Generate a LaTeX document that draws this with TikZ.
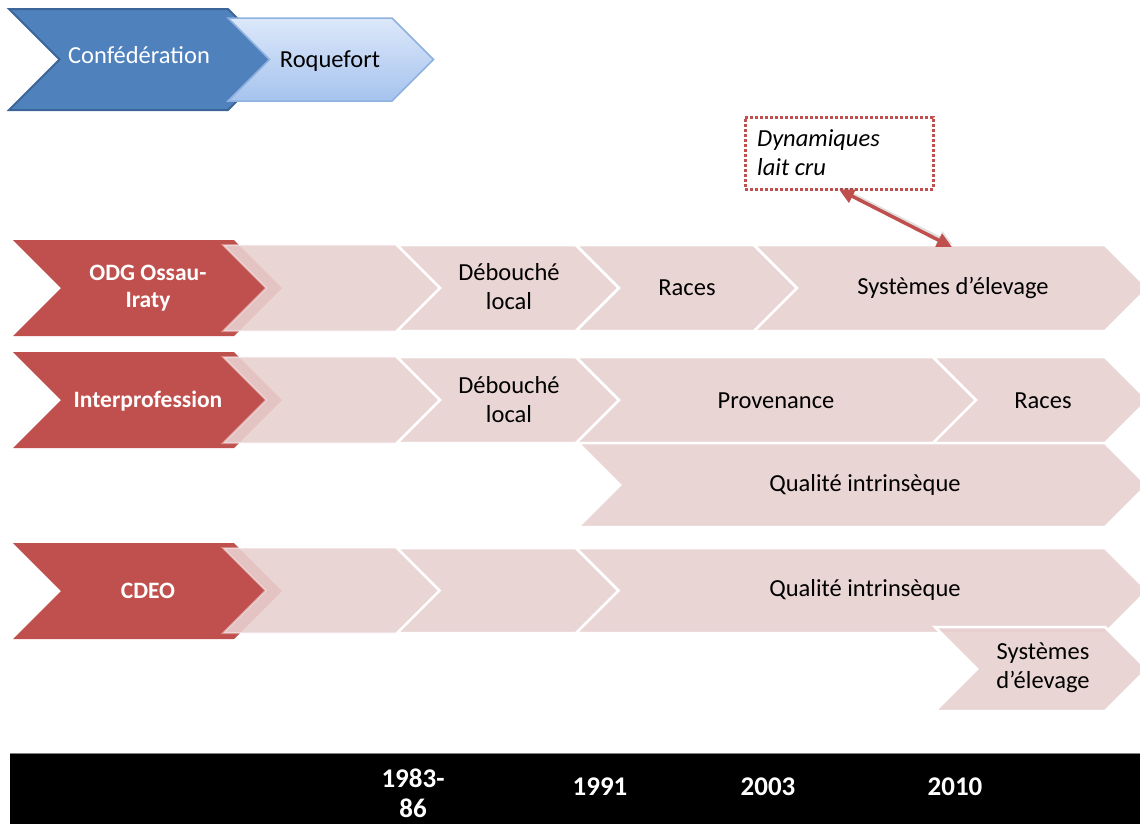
\documentclass[tikz,border=0pt]{standalone}
\usepackage{fontspec}
\setmainfont{Carlito}
\usetikzlibrary{arrows.meta}
\definecolor{redc}{HTML}{C0504D}
\definecolor{pinkc}{RGB}{232,208,208}
\definecolor{bluec}{HTML}{4F81BD}
\definecolor{blueb}{HTML}{3C6699}
\definecolor{ltop}{HTML}{DCE8FA}
\definecolor{lbot}{HTML}{A6C3EE}
\definecolor{lbord}{HTML}{8FB1DF}
\tikzset{bigtip/.tip={Triangle[length=15pt,width=14pt]}}
% #1 style, #2 left x, #3 right x (top corners), #4 top y, #5 bottom y
\newcommand{\mychev}[5]{%
  \pgfmathsetmacro{\chh}{(#5-#4)/2}%
  \pgfmathsetmacro{\chm}{(#4+#5)/2}%
  \path[#1] (#2,#4) -- (#3,#4) -- ({#3+\chh},\chm) -- (#3,#5) -- (#2,#5) -- ({#2+\chh},\chm) -- cycle;}
\begin{document}
\begin{tikzpicture}[x=1pt,y=-1pt,
  redchev/.style={fill=redc},
  pinkchev/.style={fill=pinkc,fill opacity=0.9,draw=white,line width=2.5pt,line join=miter},
  firstpink/.style={fill=pinkc,fill opacity=0.9,draw=white,draw opacity=0.35,line width=2pt},
  lbl/.style={font=\fontsize{24.5}{29}\selectfont,align=center,text=black,inner sep=0},
  rlbl/.style={font=\bfseries\fontsize{23.5}{27}\selectfont,align=center,text=white,inner sep=0},
  yr/.style={font=\bfseries\fontsize{27}{30}\selectfont,align=center,text=white,inner sep=0}]
\useasboundingbox (0,0) rectangle (1140,823);
\clip (0,0) rectangle (1140,823);

% top blue chevrons
\mychev{fill=bluec,draw=blueb,line width=2pt}{9}{228}{9}{110}
\mychev{top color=ltop,bottom color=lbot,draw=lbord,line width=1.5pt}{228}{392}{18}{101}
\node[lbl,text=white] (conf) at (139,55) {Confédération};
\node[lbl] (roq) at (330,61) {Roquefort};

% red chevrons
\mychev{redchev}{13}{234}{240}{336}
\mychev{redchev}{13}{234}{352}{448}
\mychev{redchev}{13}{234}{543}{639}

% row 1
\mychev{firstpink}{223}{397}{245}{331}
\mychev{pinkchev}{397}{576}{245}{331}
\mychev{pinkchev}{576}{754}{245}{331}
\mychev{pinkchev}{754}{1105}{245}{331}
% row 2
\mychev{firstpink}{223}{397}{357}{443}
\mychev{pinkchev}{397}{576}{357}{443}
\mychev{pinkchev}{576}{933}{357}{443}
\mychev{pinkchev}{933}{1105}{357}{443}
\mychev{pinkchev}{578}{1105}{443}{527}
% row 3
\mychev{firstpink}{223}{397}{548}{633}
\mychev{pinkchev}{397}{576}{548}{633}
\mychev{pinkchev}{576}{1105}{548}{633}
\mychev{pinkchev}{935}{1105}{627}{711}

% red labels
\node[rlbl] (odg) at (148,288) {ODG Ossau-\\Iraty};
\node[rlbl] (inter) at (148,401) {Interprofession};
\node[rlbl] (cdeo) at (148,591) {CDEO};

% pink labels
\node[lbl] (deb1) at (509,287) {Débouché\\local};
\node[lbl] (races1) at (687,288) {Races};
\node[lbl] (sys1) at (953,288) {Systèmes d’élevage};
\node[lbl] (deb2) at (509,400) {Débouché\\local};
\node[lbl] (prov) at (776,401) {Provenance};
\node[lbl] (races2) at (1043,401) {Races};
\node[lbl] (qual2) at (865,485) {Qualité intrinsèque};
\node[lbl] (qual3) at (865,590) {Qualité intrinsèque};
\node[lbl] (sys3) at (1043,668) {Systèmes\\d’élevage};

% dynamiques box and arrow
\node[draw=redc,line width=3pt,dash pattern=on 3pt off 2pt,
      minimum width=188pt,minimum height=72pt] (dyn) at (839,153) {};
\node[anchor=west,align=left,inner sep=0,font=\itshape\fontsize{24.5}{29}\selectfont]
      (dyntxt) at (757,153) {Dynamiques\\lait cru};
\coordinate (arrend) at (952,247);
\draw[black,opacity=0.12,line width=3.5pt,{bigtip}-{bigtip}]
  ([shift={(0.5pt,2.5pt)}]dyn.south) -- ([shift={(0.5pt,2.5pt)}]arrend);
\draw[redc,line width=3.5pt,{bigtip}-{bigtip}]
  ([yshift=1pt]dyn.south) -- (arrend);

% bottom bar
\fill[black] (10,753) rectangle (1150,830);
\draw[gray,line width=1pt] (10,753.5) -- (1150,753.5);
\node[yr] (y1) at (413,793) {1983-\\86};
\node[yr] (y2) at (600,787) {1991};
\node[yr] (y3) at (768,787) {2003};
\node[yr] (y4) at (955,787) {2010};
\end{tikzpicture}
\end{document}
